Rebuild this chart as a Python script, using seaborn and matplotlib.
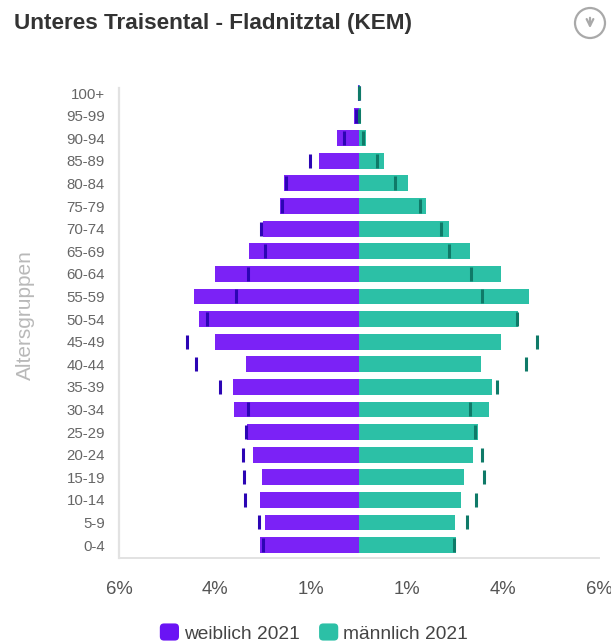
import matplotlib
matplotlib.use("Agg")
import matplotlib.pyplot as plt
import seaborn as sns
import pandas as pd
from matplotlib.patches import Circle, FancyBboxPatch, Patch
from matplotlib.legend_handler import HandlerPatch

age_groups = ["100+", "95-99", "90-94", "85-89", "80-84", "75-79", "70-74", "65-69", "60-64", "55-59", "50-54",
              "45-49", "40-44", "35-39", "30-34", "25-29", "20-24", "15-19", "10-14", "5-9", "0-4"]
female_2021 = [0.02, 0.13, 0.55, 0.99, 1.88, 1.98, 2.40, 2.76, 3.61, 4.12, 4.00,
               3.59, 2.83, 3.15, 3.13, 2.81, 2.64, 2.43, 2.48, 2.34, 2.47]
male_2021 = [0.03, 0.05, 0.18, 0.63, 1.22, 1.68, 2.25, 2.78, 3.56, 4.26, 3.97,
             3.56, 3.04, 3.32, 3.26, 2.97, 2.85, 2.62, 2.56, 2.41, 2.43]
female_ref = [0.00, 0.08, 0.38, 1.23, 1.83, 1.93, 2.44, 2.34, 2.78, 3.08, 3.79,
              4.30, 4.08, 3.48, 2.78, 2.83, 2.89, 2.87, 2.86, 2.49, 2.40]
male_ref = [0.00, 0.00, 0.09, 0.44, 0.90, 1.53, 2.04, 2.26, 2.81, 3.08, 3.94,
            4.44, 4.18, 3.46, 2.78, 2.91, 3.08, 3.12, 2.92, 2.71, 2.38]
tick_values = [-6, -3.6, -1.2, 1.2, 3.6, 6]
tick_labels = ["6%", "4%", "1%", "1%", "4%", "6%"]

PURPLE, TEAL = "#7b22f6", "#2cc0a6"
W, H = 611, 643
FONT = ["Liberation Sans", "DejaVu Sans"]

sns.set_theme(style="white")
plt.rcParams["font.family"] = FONT

df = pd.DataFrame({
    "age": age_groups * 2,
    "share": [-v for v in female_2021] + male_2021,
    "sex": ["weiblich 2021"] * len(age_groups) + ["männlich 2021"] * len(age_groups),
})

fig = plt.figure(figsize=(W / 100, H / 100), dpi=100, facecolor="white")
ax = fig.add_axes([119 / W, (H - 557.7) / H, 480 / W, (557.7 - 81.7) / H])
sns.barplot(data=df, y="age", x="share", hue="sex", order=age_groups,
            hue_order=["weiblich 2021", "männlich 2021"],
            palette=[PURPLE, TEAL], dodge=False, width=0.7, saturation=1,
            linewidth=0, legend=False, ax=ax)

positions = list(range(len(age_groups)))
ax.vlines([-v for v in female_ref], [p - 0.31 for p in positions], [p + 0.31 for p in positions],
          color="#2c05b4", linewidth=2.2, zorder=5)
ax.vlines(male_ref, [p - 0.31 for p in positions], [p + 0.31 for p in positions],
          color="#0f7a68", linewidth=2.2, zorder=5)

ax.set_xlim(-6, 6)
ax.set_ylim(20.56, -0.5)
ax.set_xticks(tick_values)
ax.set_xticklabels(tick_labels, fontsize=13.3, color="#555555")
ax.tick_params(axis="x", length=6, width=1, color="#ececec", pad=11)
ax.tick_params(axis="y", length=0, pad=10, labelsize=10.8, labelcolor="#666666")
ax.set_xlabel("")
ax.set_ylabel("Altersgruppen", fontsize=15, color="#b9b9b9", va="center")
ax.yaxis.set_label_coords((25 - 119) / 480, 0.51)

sns.despine(ax=ax, top=True, right=True)
ax.spines["left"].set_color("#e2e2e2")
ax.spines["left"].set_linewidth(1.6)
ax.spines["left"].set_bounds(20.56, -0.22)
ax.spines["bottom"].set_color("#e2e2e2")
ax.spines["bottom"].set_linewidth(1.4)

fig.text(14 / W, 1 - 24 / H, "Unteres Traisental - Fladnitztal (KEM)", fontsize=16.2,
         fontweight="bold", color="#333333", va="center", ha="left")


class RoundedHandler(HandlerPatch):
    def create_artists(self, legend, orig, xd, yd, width, height, fontsize, trans):
        box = FancyBboxPatch((2 - xd, 2 - yd), width - 4, height - 4,
                             boxstyle="round,pad=2,rounding_size=3",
                             facecolor=orig.get_facecolor(), edgecolor="none", transform=trans)
        return [box]


handles = [Patch(facecolor="#6a14f4", label="weiblich 2021"), Patch(facecolor=TEAL, label="männlich 2021")]
fig.legend(handles=handles, loc="center", bbox_to_anchor=(314 / W, 1 - 633 / H), ncol=2, frameon=False,
           fontsize=13.8, labelcolor="#444444", handlelength=1.0, handleheight=1.0,
           handletextpad=0.27, columnspacing=1.0, borderpad=0,
           handler_map={Patch: RoundedHandler()})

overlay = fig.add_axes([0, 0, 1, 1], facecolor="none")
overlay.set_xlim(0, W)
overlay.set_ylim(H, 0)
overlay.axis("off")
overlay.add_patch(Circle((590, 23), 15, facecolor="white", edgecolor="#a9a9a9", linewidth=1.6))
overlay.annotate("", xy=(590, 31), xytext=(590, 15),
                 arrowprops=dict(arrowstyle="->", color="#a9a9a9", lw=1.6, mutation_scale=12))

fig.savefig("out.png", dpi=100, facecolor="white")
